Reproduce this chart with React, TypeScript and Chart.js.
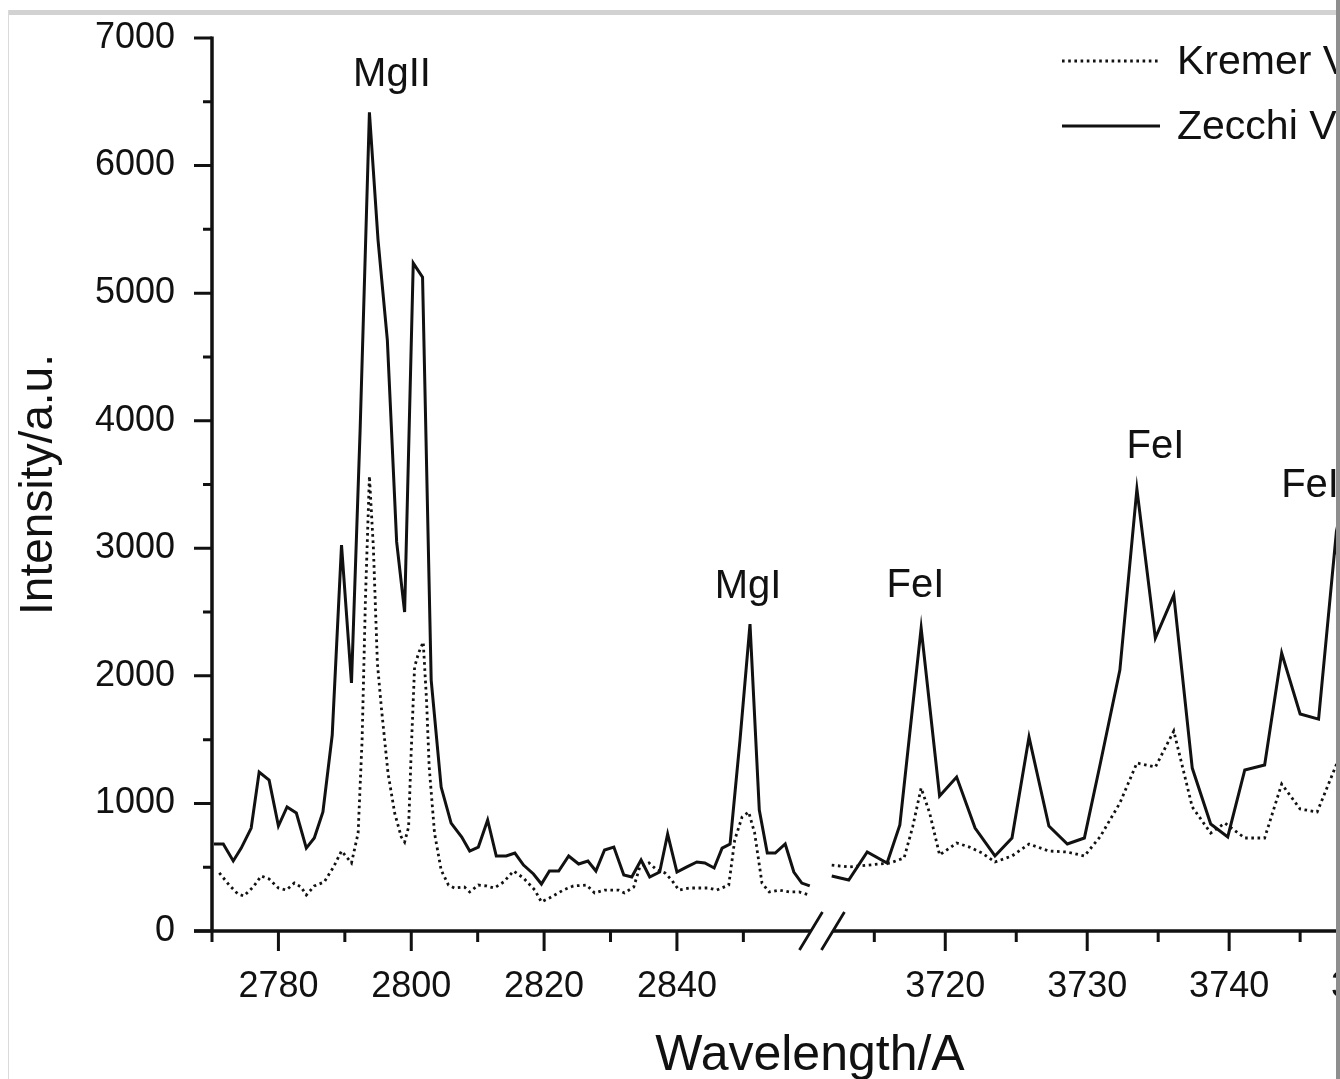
import React, { useEffect, useRef } from "react";
import { Chart, registerables } from "chart.js";

Chart.register(...registerables);

const FONT = "'Liberation Sans', Arial, Helvetica, sans-serif";
const INK = "#111111";

// ---- Data: wavelengths (Å) and intensities (a.u.) ----
const ZECCHI_LEFT_WL = [
  2770.3, 2771.7, 2773.2, 2774.4, 2775.9, 2777.1, 2778.6, 2780.0, 2781.3, 2782.7,
  2784.2, 2785.4, 2786.7, 2788.1, 2789.5, 2791.0, 2792.3, 2793.7, 2795.0, 2796.4,
  2797.8, 2799.0, 2800.3, 2801.7, 2803.0, 2804.5, 2806.0, 2807.6, 2808.8, 2810.1,
  2811.5, 2812.8, 2814.3, 2815.6, 2816.9, 2818.4, 2819.6, 2820.8, 2822.2, 2823.7,
  2825.2, 2826.6, 2827.8, 2829.1, 2830.5, 2832.0, 2833.2, 2834.6, 2835.9, 2837.4,
  2838.6, 2840.0, 2841.5, 2843.0, 2844.2, 2845.6, 2846.8, 2848.0, 2849.5, 2851.0,
  2852.4, 2853.6, 2854.8, 2856.3, 2857.6, 2858.8, 2860.0,
];
const ZECCHI_LEFT = [
  682, 682, 549, 650, 807, 1246, 1183, 823, 972, 925,
  650, 729, 933, 1536, 3025, 1944, 3926, 6418, 5415, 4632,
  3050, 2500, 5235, 5125, 1967, 1128, 846, 737, 627, 658,
  870, 588, 588, 611, 517, 447, 368, 470, 470, 588,
  525, 549, 470, 635, 658, 439, 423, 556, 423, 462,
  760, 462, 502, 541, 533, 494, 650, 682, 1500, 2406,
  948, 611, 611, 682, 462, 376, 353,
];

const KREMER_LEFT_WL = [
  2771.1, 2772.6, 2773.9, 2774.8, 2776.2, 2777.4, 2778.6, 2780.0, 2781.2, 2782.4,
  2783.4, 2784.2, 2785.4, 2786.9, 2788.3, 2789.5, 2791.0, 2792.0, 2792.6, 2793.1,
  2793.7, 2794.3, 2794.9, 2795.5, 2796.5, 2797.5, 2798.5, 2799.0, 2799.6, 2800.0,
  2800.5, 2801.1, 2801.8, 2802.3, 2802.7, 2803.5, 2804.5, 2805.6, 2806.5, 2808.0,
  2808.8, 2810.1, 2811.3, 2812.5, 2813.9, 2815.4, 2816.9, 2818.6, 2819.6, 2820.8,
  2822.9, 2824.4, 2826.4, 2827.6, 2829.1, 2831.2, 2832.1, 2833.5, 2834.4, 2835.8,
  2837.0, 2838.2, 2839.2, 2840.3, 2841.9, 2843.5, 2844.8, 2846.0, 2847.8, 2848.7,
  2849.8, 2850.8, 2851.7, 2852.8, 2853.9, 2855.4, 2856.9, 2858.4, 2859.9,
];
const KREMER_LEFT = [
  455, 360, 290, 274, 345, 431, 408, 337, 321, 376,
  345, 282, 353, 384, 502, 627, 533, 768, 1500, 2600,
  3566, 3000, 2100, 1750, 1238, 925, 737, 697, 815, 1418,
  2069, 2179, 2265, 1810, 1285, 768, 478, 360, 337, 345,
  306, 360, 353, 337, 384, 470, 415, 321, 227, 259,
  321, 353, 360, 298, 321, 321, 298, 345, 502, 533,
  478, 455, 400, 321, 337, 337, 337, 321, 360, 713,
  893, 933, 768, 376, 306, 321, 306, 306, 282,
];

const ZECCHI_RIGHT_WL = [
  3712.0, 3713.2, 3714.5, 3715.9, 3716.8, 3718.3, 3719.6, 3720.8, 3722.1, 3723.5,
  3724.7, 3725.9, 3727.3, 3728.6, 3729.8, 3730.9, 3732.3, 3733.5, 3734.8, 3736.1,
  3737.4, 3738.7, 3739.9, 3741.1, 3742.5, 3743.7, 3745.0, 3746.3, 3747.5, 3748.8,
];
const ZECCHI_RIGHT = [
  431, 400, 619, 533, 831, 2375, 1058, 1207, 807, 588,
  729, 1520, 823, 682, 729, 1301, 2045, 3464, 2296, 2633,
  1277, 839, 737, 1262, 1301, 2179, 1701, 1661, 3064, 1900,
];

const KREMER_RIGHT_WL = [
  3712.0, 3713.2, 3714.6, 3716.1, 3717.1, 3717.7, 3718.3, 3718.9, 3719.6, 3720.3,
  3720.8, 3721.7, 3722.6, 3723.5, 3724.7, 3725.9, 3727.3, 3728.6, 3729.8, 3730.9,
  3732.3, 3733.5, 3734.8, 3736.1, 3737.4, 3738.7, 3739.7, 3741.1, 3742.5, 3743.7,
  3745.0, 3746.2, 3747.6, 3748.8,
];
const KREMER_RIGHT = [
  517, 502, 517, 533, 572, 815, 1121, 925, 596, 650,
  690, 658, 611, 541, 588, 682, 627, 619, 588, 737,
  1003, 1317, 1285, 1567, 972, 768, 846, 729, 729, 1152,
  956, 933, 1317, 1000,
];

// Tick labels
const X_MAJOR = [2780, 2800, 2820, 2840, 3720, 3730, 3740, 3750];
const X_MINOR = [2770, 2790, 2810, 2830, 2850, 3715, 3725, 3735, 3745];
const Y_MAJOR = [0, 1000, 2000, 3000, 4000, 5000, 6000, 7000];
const Y_MINOR = [500, 1500, 2500, 3500, 4500, 5500, 6500];

// Peak annotations
const PEAK_LABELS = ["MgII", "MgI", "FeI", "FeI", "FeI"];
const PEAK_WL = [2797.1, 2850.7, 3717.9, 3734.8, 3745.7];
const PEAK_Y = [6620, 2610, 2617, 3707, 3401];

const SERIES_NAMES = ["Kremer V", "Zecchi V"];

// ---- Broken axis transform ----
const LEFT_START = 2770;
const RIGHT_ANCHOR = 3720;
const RIGHT_ANCHOR_U = 110.4;
const RIGHT_STRETCH = 2.137;
const RIGHT_END = 3752.6;
const LEFT_LAST = 2861;
const RIGHT_FIRST = 3711.7;

function toU(wl: number): number {
  return wl < 3000 ? wl - LEFT_START : RIGHT_ANCHOR_U + (wl - RIGHT_ANCHOR) * RIGHT_STRETCH;
}
const BREAK_U = (toU(LEFT_LAST) + toU(RIGHT_FIRST)) / 2;

function series(lwl: number[], lv: number[], rwl: number[], rv: number[]) {
  const pts: { x: number; y: number | null }[] = [];
  lwl.forEach((w, i) => pts.push({ x: toU(w), y: lv[i] }));
  pts.push({ x: BREAK_U, y: null });
  rwl.forEach((w, i) => pts.push({ x: toU(w), y: rv[i] }));
  return pts;
}

const DOT_DASH = [2.6, 3.6];

const decorPlugin = {
  id: "decor",
  afterDraw(chart: any) {
    const { ctx, chartArea, scales } = chart;
    const xs = scales.x;
    const ys = scales.y;
    const L = chartArea.left;
    const B = chartArea.bottom;
    const T = chartArea.top;
    const R = chartArea.right;
    const bx = xs.getPixelForValue(BREAK_U);
    ctx.save();
    ctx.strokeStyle = INK;
    ctx.fillStyle = INK;
    ctx.lineCap = "butt";
    // axes
    ctx.lineWidth = 3.5;
    ctx.beginPath();
    ctx.moveTo(L, T - 1.5);
    ctx.lineTo(L, B + 1.5);
    ctx.moveTo(L - 18, B);
    ctx.lineTo(bx - 11, B);
    ctx.moveTo(bx + 11, B);
    ctx.lineTo(R + 10, B);
    ctx.stroke();
    // y ticks
    ctx.lineWidth = 3;
    ctx.beginPath();
    Y_MAJOR.forEach((v) => {
      const p = ys.getPixelForValue(v);
      ctx.moveTo(L - 18, p);
      ctx.lineTo(L, p);
    });
    Y_MINOR.forEach((v) => {
      const p = ys.getPixelForValue(v);
      ctx.moveTo(L - 9, p);
      ctx.lineTo(L, p);
    });
    // x ticks
    X_MAJOR.forEach((w) => {
      const p = xs.getPixelForValue(toU(w));
      ctx.moveTo(p, B);
      ctx.lineTo(p, B + 20);
    });
    X_MINOR.forEach((w) => {
      const p = xs.getPixelForValue(toU(w));
      ctx.moveTo(p, B);
      ctx.lineTo(p, B + 11);
    });
    ctx.stroke();
    // break marks
    ctx.lineWidth = 2.8;
    ctx.beginPath();
    [-11, 11].forEach((off) => {
      const c = bx + off;
      ctx.moveTo(c - 11.5, B + 19);
      ctx.lineTo(c + 11.5, B - 19);
    });
    ctx.stroke();
    // peak labels
    ctx.font = `40px ${FONT}`;
    ctx.textAlign = "center";
    ctx.textBaseline = "alphabetic";
    PEAK_LABELS.forEach((t, i) => {
      ctx.fillText(t, xs.getPixelForValue(toU(PEAK_WL[i])), ys.getPixelForValue(PEAK_Y[i]));
    });
    // legend
    const rows = [61, 126];
    ctx.font = `41px ${FONT}`;
    ctx.textAlign = "left";
    ctx.textBaseline = "middle";
    rows.forEach((yy, i) => {
      ctx.lineWidth = 2.8;
      ctx.setLineDash(i === 0 ? DOT_DASH : []);
      ctx.beginPath();
      ctx.moveTo(1062, yy);
      ctx.lineTo(1160, yy);
      ctx.stroke();
      ctx.setLineDash([]);
      ctx.fillText(SERIES_NAMES[i], 1177, yy + 2);
    });
    ctx.restore();
  },
};

export default function App() {
  const ref = useRef<HTMLCanvasElement | null>(null);
  useEffect(() => {
    if (!ref.current) return;
    const chart = new Chart(ref.current, {
      type: "line",
      data: {
        datasets: [
          {
            label: SERIES_NAMES[0],
            data: series(KREMER_LEFT_WL, KREMER_LEFT, KREMER_RIGHT_WL, KREMER_RIGHT) as any,
            borderColor: INK,
            borderWidth: 2.8,
            borderDash: DOT_DASH,
            pointRadius: 0,
            tension: 0,
            spanGaps: false,
            fill: false,
          },
          {
            label: SERIES_NAMES[1],
            data: series(ZECCHI_LEFT_WL, ZECCHI_LEFT, ZECCHI_RIGHT_WL, ZECCHI_RIGHT) as any,
            borderColor: INK,
            borderWidth: 3,
            pointRadius: 0,
            tension: 0,
            spanGaps: false,
            fill: false,
          },
        ],
      },
      options: {
        animation: false,
        responsive: false,
        layout: { padding: { top: 38, left: 0, right: 0, bottom: 0 } },
        plugins: { legend: { display: false }, tooltip: { enabled: false } },
        scales: {
          x: {
            type: "linear",
            min: 0,
            max: toU(RIGHT_END),
            grid: { display: false, drawTicks: false },
            border: { display: false },
            afterBuildTicks: (scale: any) => {
              scale.ticks = X_MAJOR.map((w) => ({ value: toU(w) }));
            },
            afterFit: (scale: any) => {
              scale.height = 148;
              scale.paddingLeft = 0;
              scale.paddingRight = 0;
              scale.paddingTop = 0;
              scale.paddingBottom = 0;
            },
            ticks: {
              autoSkip: false,
              maxRotation: 0,
              minRotation: 0,
              padding: 34,
              color: INK,
              font: { family: FONT, size: 36 },
              callback: (_v: any, i: number) => String(X_MAJOR[i]),
            },
            title: {
              display: true,
              text: "Wavelength/A",
              color: INK,
              font: { family: FONT, size: 50, lineHeight: 0.9 },
              padding: 0,
            },
          },
          y: {
            min: 0,
            max: 7000,
            grid: { display: false, drawTicks: false },
            border: { display: false },
            afterFit: (scale: any) => {
              scale.width = 212;
              scale.paddingLeft = 0;
              scale.paddingRight = 0;
              scale.paddingTop = 0;
              scale.paddingBottom = 0;
            },
            ticks: {
              stepSize: 1000,
              padding: 37,
              color: INK,
              font: { family: FONT, size: 36 },
              callback: (v: any) => String(v),
            },
            title: {
              display: true,
              text: "Intensity/a.u.",
              color: INK,
              font: { family: FONT, size: 46 },
              padding: { top: 12, bottom: 0 },
            },
          },
        },
      },
      plugins: [decorPlugin],
    } as any);
    return () => chart.destroy();
  }, []);

  return (
    <div
      style={{
        position: "fixed",
        left: 0,
        top: 0,
        width: 1340,
        height: 1079,
        overflow: "hidden",
        background: "#fff",
      }}
    >
      <canvas ref={ref} width={1408} height={1079} style={{ position: "absolute", left: 0, top: 0, width: 1408, height: 1079 }} />
      <div style={{ position: "absolute", left: 8, top: 10, width: 1340, height: 5, background: "#d2d2d2" }} />
      <div style={{ position: "absolute", left: 8, top: 10, width: 1, height: 1079, background: "#dadada" }} />
      <div style={{ position: "absolute", left: 1336, top: 0, width: 4, height: 1079, background: "#8e8e8e" }} />
    </div>
  );
}
